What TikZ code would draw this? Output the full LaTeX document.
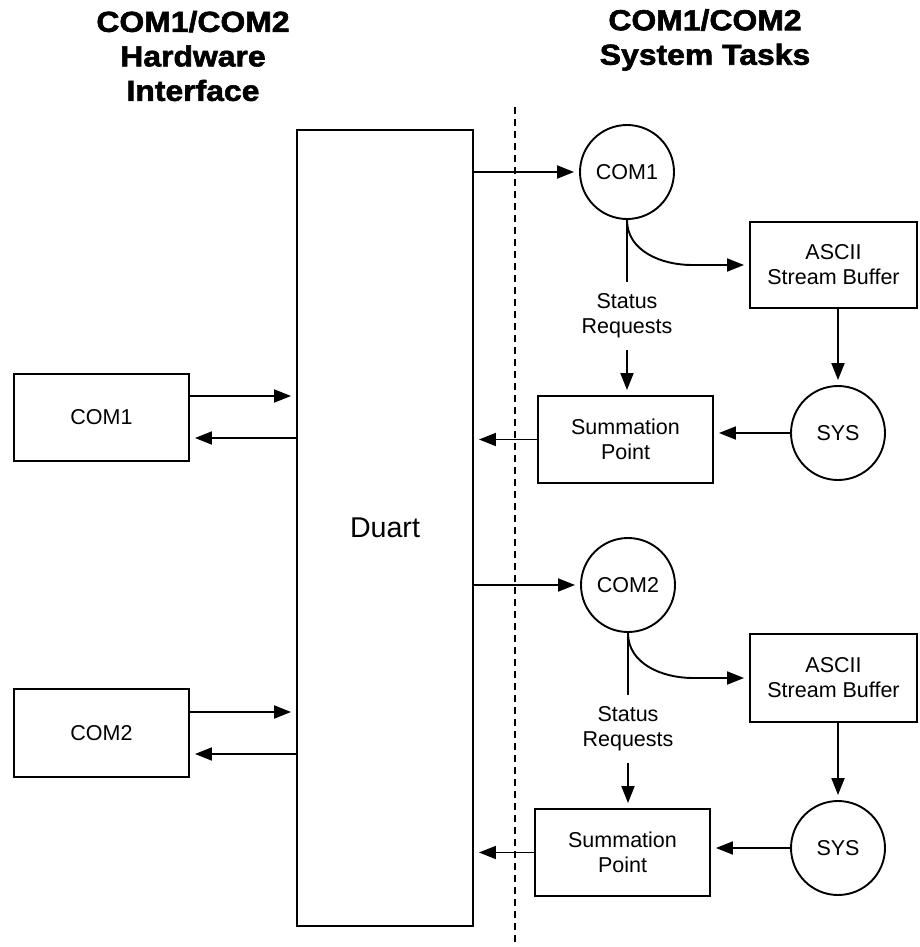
\documentclass[tikz,border=0pt]{standalone}
\usepackage{fontspec}
\setmainfont{Liberation Sans}
\newfontfamily\headfont[FakeStretch=1.1,FakeBold=2]{Liberation Sans Bold}
\usepackage{tikz}
\usetikzlibrary{arrows.meta,calc}

\begin{document}
\begin{tikzpicture}[x=1pt, y=-1pt, line width=1.9pt,
  box/.style={draw, minimum width=175pt, minimum height=87pt, align=center, font=\fontsize{21.5}{25}\selectfont},
  ring/.style={draw, circle, minimum size=94pt, inner sep=0pt, font=\fontsize{21.5}{25}\selectfont},
  arr/.style={-{Triangle[length=17pt, width=13pt]}, shorten >=5pt},
  hdr/.style={align=center, font=\headfont\fontsize{29}{34.5}\selectfont},
  lbl/.style={align=center, inner ysep=11pt, font=\fontsize{21.5}{25}\selectfont}]
  	\useasboundingbox (0, 0) rectangle (920, 947);
  	\node (hwtitle) at (193, 56) [hdr] {COM1/COM2\\Hardware\\Interface};
  	\node (systitle) at (705, 40) [hdr] {COM1/COM2\\System Tasks};
  	\coordinate (divtop) at (515, 107);
  	\coordinate (divbot) at (515, 947);
  	\draw[line width=1.7pt, dash pattern=on 7pt off 5pt] (divtop) -- (divbot);

  	\node (duart) at (385, 528) [box, minimum width=176pt, minimum height=796pt, font=\fontsize{28.6}{34}\selectfont] {Duart};
  	\node (port1) at (101.5, 417.5) [box] {COM1};
  	\node (port2) at (101.5, 733) [box, minimum height=88pt] {COM2};
  	\coordinate (p1in) at ([yshift=21.5pt]port1.east);
  	\coordinate (p1out) at ([yshift=-20.5pt]port1.east);
  	\coordinate (p2in) at ([yshift=21pt]port2.east);
  	\coordinate (p2out) at ([yshift=-21pt]port2.east);
  	\draw[arr] (p1in) -- (p1in -| duart.west);
  	\draw[arr] (p1out -| duart.west) -- (p1out);
  	\draw[arr] (p2in) -- (p2in -| duart.west);
  	\draw[arr] (p2out -| duart.west) -- (p2out);

  	\node (com1) at (627, 172) [ring] {COM1};
  	\node (ascii1) at (833.5, 265) [box, minimum width=167pt, minimum height=86pt] {ASCII\\Stream Buffer};
  	\node (sys1) at (838, 433) [ring] {SYS};
  	\node (sum1) at (625.5, 439.5) [box] {Summation\\Point};
  	\node (req1) at (627, 316) [lbl] {Status\\Requests};
  	\draw[arr] (duart.east |- com1.west) -- (com1.west);
  	\draw[arr] (com1.south) to[out=-90, in=180] ($(com1.south |- ascii1.west) + (65, 0)$) -- (ascii1.west);
  	\draw (com1.south) -- (req1.north);
  	\draw[arr] (req1.south) -- (req1.south |- sum1.north);
  	\draw[arr] (ascii1.south -| sys1.north) -- (sys1.north);
  	\draw[arr] (sys1.west) -- (sys1.west -| sum1.east);
  	\draw[arr] (sum1.west) -- (sum1.west -| duart.east);

  	\node (com2) at (628, 585) [ring] {COM2};
  	\node (ascii2) at (833.5, 678) [box, minimum width=167pt, minimum height=88pt] {ASCII\\Stream Buffer};
  	\node (sys2) at (838, 848) [ring] {SYS};
  	\node (sum2) at (622.5, 852.5) [box] {Summation\\Point};
  	\node (req2) at (628, 729) [lbl] {Status\\Requests};
  	\draw[arr] (duart.east |- com2.west) -- (com2.west);
  	\draw[arr] (com2.south) to[out=-90, in=180] ($(com2.south |- ascii2.west) + (65, 0)$) -- (ascii2.west);
  	\draw (com2.south) -- (req2.north);
  	\draw[arr] (req2.south) -- (req2.south |- sum2.north);
  	\draw[arr] (ascii2.south -| sys2.north) -- (sys2.north);
  	\draw[arr] (sys2.west) -- (sys2.west -| sum2.east);
  	\draw[arr] (sum2.west) -- (sum2.west -| duart.east);
  \end{tikzpicture}
\end{document}
